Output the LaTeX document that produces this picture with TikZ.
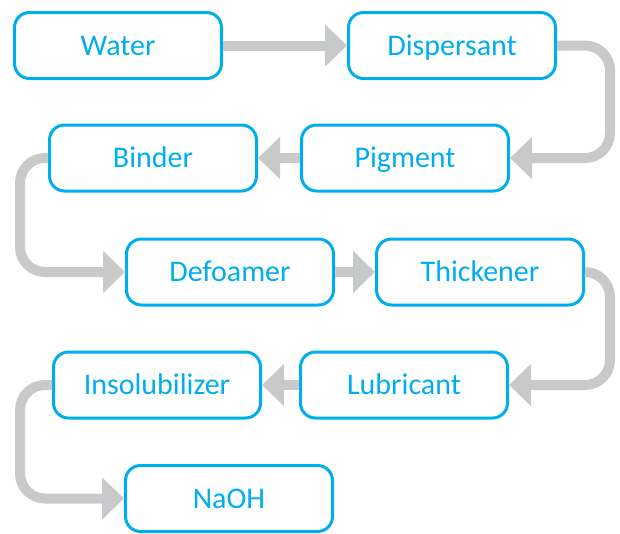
\documentclass[tikz,border=0pt]{standalone}
\usepackage{fontspec}
\setmainfont{Carlito}
\usetikzlibrary{arrows.meta}
\definecolor{boxblue}{RGB}{0,174,239}
\definecolor{arrgray}{RGB}{200,201,203}
\begin{document}
\begin{tikzpicture}[x=1pt,y=-1pt,
  stepbox/.style={draw=boxblue, line width=3pt, rounded corners=15pt,
    minimum width=207pt, minimum height=66pt, text=boxblue,
    font=\fontsize{30}{36}\selectfont, inner sep=0pt,
    text height=19pt, text depth=0pt},
  flow/.style={draw=arrgray, line width=10pt, rounded corners=25pt,
    -{Triangle[width=41pt,length=22pt]}, arrgray}]
\useasboundingbox (0,0) rectangle (620,533);
\node[stepbox] (water) at (118,45.5) {Water};
\node[stepbox] (disp)  at (452,45.5) {Dispersant};
\node[stepbox] (binder) at (153,158) {Binder};
\node[stepbox] (pig)   at (405,158) {Pigment};
\node[stepbox] (defo)  at (230,272) {Defoamer};
\node[stepbox] (thick) at (480,272) {Thickener};
\node[stepbox] (insol) at (157,385) {Insolubilizer};
\node[stepbox] (lub)   at (404,385) {Lubricant};
\node[stepbox] (naoh)  at (229,498.5) {NaOH};
\draw[flow] (water) -- (disp);
\draw[flow] (disp.east) -- ++(53,0) |- (pig.east);
\draw[flow] (pig) -- (binder);
\draw[flow] (binder.west) -- ++(-28,0) |- (defo.west);
\draw[flow] (defo) -- (thick);
\draw[flow] (thick.east) -- ++(25,0) |- (lub.east);
\draw[flow] (lub) -- (insol);
\draw[flow] (insol.west) -- ++(-32,0) |- (naoh.west);
\end{tikzpicture}
\end{document}
